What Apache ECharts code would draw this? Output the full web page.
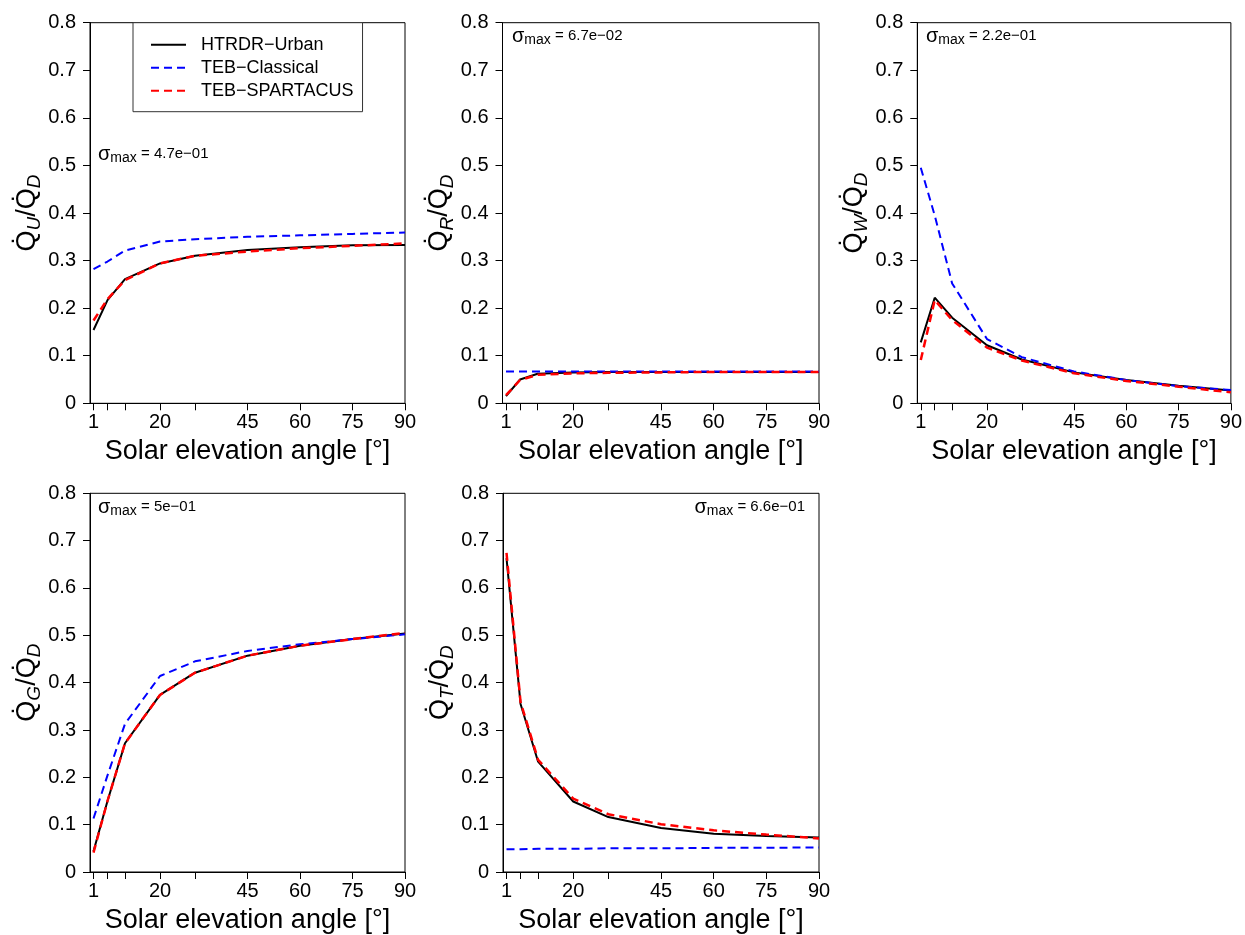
<!DOCTYPE html>
<html><head><meta charset="utf-8">
<script src="https://cdn.jsdelivr.net/npm/echarts@6/dist/echarts.min.js"></script>
<style>html,body{margin:0;padding:0;background:#fff}#c{width:1245px;height:935px}</style>
</head><body><div id="c"></div>
<script>
// ---- data ----
const angles = [1, 5, 10, 20, 30, 45, 60, 75, 90];
const tickAngles = [1, 5, 10, 20, 30, 45, 60, 75, 90];
const labelAngles = [1, 20, 45, 60, 75, 90];
const seriesNames = ['HTRDR\u2212Urban', 'TEB\u2212Classical', 'TEB\u2212SPARTACUS'];
const xAxisTitle = 'Solar elevation angle [\u00b0]';
const fluxSubscripts = ['U', 'R', 'W', 'G', 'T'];
const sigmaLabels = ['4.7e\u221201', '6.7e\u221202', '2.2e\u221201', '5e\u221201', '6.6e\u221201'];

const htrdrU     = [0.154, 0.217, 0.261, 0.294, 0.310, 0.322, 0.328, 0.332, 0.333];
const classicalU = [0.282, 0.298, 0.321, 0.340, 0.345, 0.350, 0.353, 0.356, 0.359];
const spartacusU = [0.174, 0.219, 0.259, 0.294, 0.310, 0.319, 0.326, 0.331, 0.336];

const htrdrR     = [0.015, 0.050, 0.062, 0.065, 0.066, 0.066, 0.066, 0.066, 0.066];
const classicalR = [0.067, 0.067, 0.067, 0.067, 0.067, 0.067, 0.067, 0.067, 0.067];
const spartacusR = [0.017, 0.049, 0.060, 0.063, 0.064, 0.065, 0.066, 0.066, 0.066];

const htrdrW     = [0.128, 0.222, 0.180, 0.122, 0.092, 0.065, 0.049, 0.037, 0.027];
const classicalW = [0.495, 0.395, 0.252, 0.135, 0.097, 0.067, 0.049, 0.036, 0.028];
const spartacusW = [0.091, 0.217, 0.175, 0.117, 0.090, 0.063, 0.047, 0.035, 0.023];

const htrdrG     = [0.044, 0.150, 0.272, 0.374, 0.421, 0.457, 0.478, 0.492, 0.504];
const classicalG = [0.113, 0.204, 0.313, 0.414, 0.445, 0.467, 0.481, 0.492, 0.502];
const spartacusG = [0.041, 0.150, 0.272, 0.374, 0.421, 0.457, 0.478, 0.492, 0.505];

const htrdrT     = [0.663, 0.355, 0.233, 0.149, 0.116, 0.093, 0.081, 0.076, 0.073];
const classicalT = [0.048, 0.048, 0.049, 0.049, 0.050, 0.050, 0.051, 0.051, 0.052];
const spartacusT = [0.674, 0.359, 0.237, 0.155, 0.122, 0.101, 0.088, 0.079, 0.071];

// ---- layout / style ----
const FONT = 'Liberation Sans, Arial, Helvetica, sans-serif';
const panels = [
  {grid: {left: 90,  top: 22.7,  width: 315, height: 380.6}, data: [htrdrU, classicalU, spartacusU], sigma: {x: 98,  y: 154, align: 'left'}},
  {grid: {left: 502.5, top: 22.7, width: 316.5, height: 380.6}, data: [htrdrR, classicalR, spartacusR], sigma: {x: 512, y: 36, align: 'left'}},
  {grid: {left: 917.3, top: 22.7, width: 315.4, height: 380.6}, data: [htrdrW, classicalW, spartacusW], sigma: {x: 926, y: 36, align: 'left'}},
  {grid: {left: 90,  top: 493.3, width: 315, height: 381}, data: [htrdrG, classicalG, spartacusG], sigma: {x: 98,  y: 507, align: 'left'}},
  {grid: {left: 503, top: 493.3, width: 316, height: 381}, data: [htrdrT, classicalT, spartacusT], sigma: {x: 805, y: 507, align: 'right'}}
];
const lineStyles = [
  {color: '#000000', width: 2, type: 'solid'},
  {color: '#0000ff', width: 2, type: [8, 5]},
  {color: '#ff0000', width: 2.5, type: [8, 5]}
];

const grids = [], xAxes = [], yAxes = [], series = [], graphics = [];
panels.forEach((p, i) => {
  grids.push(Object.assign({show: true, borderColor: '#000', borderWidth: 1, backgroundColor: 'transparent'}, p.grid));
  xAxes.push({
    type: 'value', gridIndex: i, min: 0, max: 90,
    name: xAxisTitle, nameLocation: 'middle', nameGap: 35,
    nameTextStyle: {fontFamily: FONT, fontSize: 27, color: '#000'},
    axisLine: {show: true, lineStyle: {color: '#000', width: 1}},
    axisTick: {show: true, inside: false, length: 7, customValues: tickAngles, lineStyle: {color: '#000'}},
    axisLabel: {show: true, customValues: labelAngles, margin: 9, fontFamily: FONT, fontSize: 20, color: '#000', showMinLabel: true, showMaxLabel: true},
    splitLine: {show: false}
  });
  yAxes.push({
    type: 'value', gridIndex: i, min: 0, max: 0.8, interval: 0.1,
    name: '{q|Q\u0307}{s|' + fluxSubscripts[i] + '}{q|/Q\u0307}{s|D}',
    nameLocation: 'middle', nameRotate: 90, nameGap: 45,
    nameTextStyle: {
      fontFamily: FONT, color: '#000',
      rich: {
        q: {fontFamily: FONT, fontSize: 27, color: '#000', lineHeight: 34, verticalAlign: 'middle'},
        s: {fontFamily: FONT, fontSize: 19, fontStyle: 'italic', color: '#000', lineHeight: 34, verticalAlign: 'bottom'}
      }
    },
    axisLine: {show: true, lineStyle: {color: '#000', width: 1}},
    axisTick: {show: true, inside: false, length: 7, lineStyle: {color: '#000'}},
    axisLabel: {margin: 14, fontFamily: FONT, fontSize: 20, color: '#000',
      formatter: v => (Math.abs(v) < 1e-9 ? '0' : v.toFixed(1))},
    splitLine: {show: false}
  });
  p.data.forEach((vals, k) => {
    series.push({
      name: seriesNames[k], type: 'line', xAxisIndex: i, yAxisIndex: i,
      data: angles.map((a, j) => [a, vals[j]]),
      symbol: 'circle', symbolSize: 0, showSymbol: false, smooth: false, silent: true,
      lineStyle: Object.assign({}, lineStyles[k]),
      itemStyle: {color: lineStyles[k].color},
      z: 2 + k
    });
  });
  graphics.push({
    type: 'text', x: p.sigma.x, y: p.sigma.y, z: 100,
    style: {
      text: '{g|\u03c3}{m|max}{e| = ' + sigmaLabels[i] + '}',
      align: p.sigma.align, verticalAlign: 'middle',
      rich: {
        g: {fontFamily: FONT, fontSize: 20, fill: '#000', lineHeight: 22, verticalAlign: 'middle'},
        m: {fontFamily: FONT, fontSize: 14, fill: '#000', lineHeight: 22, verticalAlign: 'bottom'},
        e: {fontFamily: FONT, fontSize: 15, fill: '#000', lineHeight: 22, verticalAlign: 'middle'}
      }
    }
  });
});

const option = {
  animation: false,
  backgroundColor: '#fff',
  grid: grids, xAxis: xAxes, yAxis: yAxes, series: series,
  legend: {
    show: true, data: seriesNames, orient: 'vertical', left: 133, top: 22.7,
    padding: [13, 9, 12, 17], itemGap: 5, itemWidth: 35, itemHeight: 14,
    borderColor: '#333', borderWidth: 1, backgroundColor: '#fff', selectedMode: false,
    itemStyle: {opacity: 0, borderWidth: 0},
    textStyle: {fontFamily: FONT, fontSize: 18, color: '#000', padding: [0, 0, 0, 10]}
  },
  graphic: graphics
};
const chart = echarts.init(document.getElementById('c'), null, {renderer: 'canvas'});
chart.setOption(option);
</script>
</body></html>
